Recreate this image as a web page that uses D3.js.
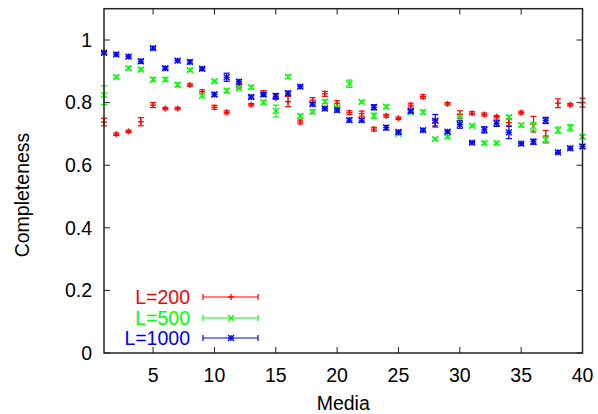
<!DOCTYPE html>
<html>
<head>
<meta charset="utf-8">
<script src="https://cdn.jsdelivr.net/npm/d3@7"></script>
<style>
body { margin: 0; background: #fff; }
text { font-family: "Liberation Sans", Arial, sans-serif; }
</style>
</head>
<body>
<script>
// media index 1..40
const media = d3.range(1, 41);

const l200 = [0.738,0.699,0.708,0.739,0.792,0.781,0.781,0.856,0.835,0.785,
              0.769,0.853,0.793,0.830,0.814,0.803,0.738,0.808,0.828,0.798,
              0.768,0.765,0.715,0.758,0.750,0.792,0.819,0.736,0.796,0.762,
              0.766,0.762,0.755,0.736,0.768,0.731,0.693,0.798,0.793,0.800];
const l200err = [0.012,0.004,0.004,0.013,0.008,0.004,0.004,0.004,0.006,0.006,
                 0.005,0.006,0.004,0.008,0.004,0.016,0.006,0.008,0.008,0.008,
                 0.006,0.008,0.006,0.005,0.004,0.006,0.006,0.010,0.004,0.012,
                 0.005,0.005,0.004,0.012,0.005,0.025,0.018,0.014,0.004,0.014];

const l500 = [0.824,0.882,0.910,0.906,0.874,0.874,0.857,0.904,0.822,0.868,
              0.838,0.846,0.849,0.801,0.773,0.883,0.757,0.771,0.803,0.785,
              0.860,0.802,0.758,0.787,0.700,0.770,0.770,0.684,0.691,0.750,
              0.726,0.671,0.671,0.753,0.728,0.724,0.680,0.712,0.720,0.691];
const l500err = [0.030,0.004,0.005,0.005,0.006,0.006,0.006,0.005,0.006,0.004,
                 0.006,0.005,0.005,0.006,0.019,0.005,0.006,0.006,0.006,0.005,
                 0.012,0.004,0.008,0.005,0.004,0.006,0.006,0.004,0.004,0.015,
                 0.004,0.004,0.004,0.006,0.005,0.012,0.010,0.010,0.010,0.005];

const l1000 = [0.959,0.954,0.947,0.932,0.974,0.910,0.934,0.930,0.908,0.826,
               0.881,0.867,0.818,0.826,0.821,0.830,0.851,0.795,0.781,0.776,
               0.744,0.744,0.785,0.720,0.706,0.773,0.712,0.742,0.707,0.730,
               0.672,0.713,0.734,0.705,0.669,0.675,0.743,0.641,0.654,0.660];
const l1000err = [0.005,0.005,0.005,0.006,0.005,0.005,0.005,0.006,0.005,0.006,
                  0.013,0.006,0.005,0.006,0.008,0.006,0.005,0.005,0.005,0.006,
                  0.006,0.006,0.008,0.007,0.005,0.005,0.005,0.020,0.005,0.012,
                  0.004,0.010,0.010,0.020,0.005,0.008,0.010,0.005,0.005,0.006];

const xTicks = [5, 10, 15, 20, 25, 30, 35, 40];
const yTicks = [0, 0.2, 0.4, 0.6, 0.8, 1];

const series = [
  {name: "L=200", values: l200, err: l200err, color: "#ff0000", shape: "plus"},
  {name: "L=500", values: l500, err: l500err, color: "#00ff00", shape: "cross"},
  {name: "L=1000", values: l1000, err: l1000err, color: "#0000ff", shape: "star"}
];

const width = 598, height = 414;
const plotL = 104, plotR = 582.5, plotT = 8.7, plotB = 353;
const fs = 19.5;

const x = d3.scaleLinear().domain([1, 40]).range([plotL, plotR]);
const y = d3.scaleLinear().domain([0, 1.1]).range([plotB, plotT]);

const svg = d3.select("body").append("svg")
  .attr("width", width)
  .attr("height", height);

const tick = 6;
const axisColor = "#222";

// ticks (inward, mirrored)
const ticksG = svg.append("g").attr("stroke", axisColor).attr("stroke-width", 1);
ticksG.selectAll("line.yl").data(yTicks).enter().append("line")
  .attr("x1", plotL).attr("x2", plotL + tick)
  .attr("y1", d => y(d)).attr("y2", d => y(d));
ticksG.selectAll("line.yr").data(yTicks).enter().append("line")
  .attr("x1", plotR).attr("x2", plotR - tick)
  .attr("y1", d => y(d)).attr("y2", d => y(d));
ticksG.selectAll("line.xb").data(xTicks).enter().append("line")
  .attr("x1", d => x(d)).attr("x2", d => x(d))
  .attr("y1", plotB).attr("y2", plotB - tick);
ticksG.selectAll("line.xt").data(xTicks).enter().append("line")
  .attr("x1", d => x(d)).attr("x2", d => x(d))
  .attr("y1", plotT).attr("y2", plotT + tick);

// tick labels
svg.append("g").selectAll("text").data(yTicks).enter().append("text")
  .attr("x", plotL - 12)
  .attr("y", d => y(d))
  .attr("dy", "0.35em")
  .attr("text-anchor", "end")
  .attr("font-size", fs)
  .text(d => d3.format("")(d));

svg.append("g").selectAll("text").data(xTicks).enter().append("text")
  .attr("x", d => x(d))
  .attr("y", 382)
  .attr("text-anchor", "middle")
  .attr("font-size", fs)
  .text(d => d);

svg.append("text")
  .attr("x", (plotL + plotR) / 2)
  .attr("y", 410)
  .attr("text-anchor", "middle")
  .attr("font-size", fs)
  .text("Media");

svg.append("text")
  .attr("transform", "translate(29,195) rotate(-90)")
  .attr("text-anchor", "middle")
  .attr("font-size", fs)
  .text("Completeness");

// point shapes
function marker(g, shape, cx, cy, color) {
  const s = 3;
  const segs = [];
  if (shape === "plus" || shape === "star") {
    segs.push([cx - s, cy, cx + s, cy], [cx, cy - s, cx, cy + s]);
  }
  if (shape === "cross" || shape === "star") {
    segs.push([cx - s, cy - s, cx + s, cy + s], [cx - s, cy + s, cx + s, cy - s]);
  }
  segs.forEach(p => {
    g.append("line")
      .attr("x1", p[0]).attr("y1", p[1]).attr("x2", p[2]).attr("y2", p[3])
      .attr("stroke", color).attr("stroke-width", 1.3);
  });
}

const cap = 3;
series.forEach(s => {
  const g = svg.append("g").attr("stroke", s.color).attr("stroke-width", 1.2);
  s.values.forEach((v, i) => {
    const cx = x(media[i]);
    const y0 = y(v - s.err[i]), y1 = y(v + s.err[i]);
    g.append("line").attr("x1", cx).attr("x2", cx).attr("y1", y0).attr("y2", y1);
    g.append("line").attr("x1", cx - cap).attr("x2", cx + cap).attr("y1", y0).attr("y2", y0);
    g.append("line").attr("x1", cx - cap).attr("x2", cx + cap).attr("y1", y1).attr("y2", y1);
    marker(g, s.shape, cx, y(v), s.color);
  });
});

// legend
const legRows = [297, 318, 338];
series.forEach((s, i) => {
  const ly = legRows[i];
  svg.append("text")
    .attr("x", 190).attr("y", ly).attr("dy", "0.35em")
    .attr("text-anchor", "end")
    .attr("font-size", fs)
    .attr("fill", s.color)
    .text(s.name);
  const g = svg.append("g").attr("stroke", s.color).attr("stroke-width", 1.2);
  g.append("line").attr("x1", 203).attr("x2", 258).attr("y1", ly).attr("y2", ly);
  g.append("line").attr("x1", 203).attr("x2", 203).attr("y1", ly - cap).attr("y2", ly + cap);
  g.append("line").attr("x1", 258).attr("x2", 258).attr("y1", ly - cap).attr("y2", ly + cap);
  marker(g, s.shape, 231, ly, s.color);
});

// border
svg.append("rect")
  .attr("x", plotL).attr("y", plotT)
  .attr("width", plotR - plotL).attr("height", plotB - plotT)
  .attr("fill", "none")
  .attr("stroke", axisColor)
  .attr("stroke-width", 1.5);
</script>
</body>
</html>
